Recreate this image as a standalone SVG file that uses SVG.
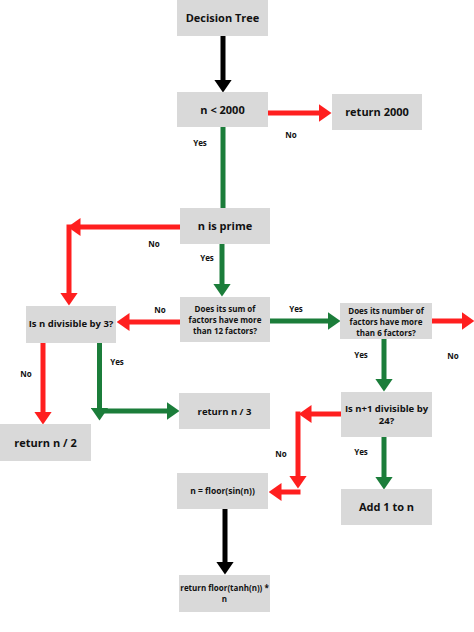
<svg xmlns="http://www.w3.org/2000/svg" width="474" height="632" viewBox="0 0 474 632">
<style>
.box{fill:#d9d9d9}
.t{font-family:"Open Sans","Liberation Sans",sans-serif;font-weight:bold;fill:#111;text-anchor:middle}
.l{font-family:"Open Sans","Liberation Sans",sans-serif;font-weight:bold;fill:#111;text-anchor:middle;font-size:8px}
.k{stroke:#000;stroke-width:5;fill:none}
.r{stroke:#ff1f1f;stroke-width:5;fill:none}
.g{stroke:#1b7d3a;stroke-width:5;fill:none}
</style>
<defs>
<marker id="ak" markerUnits="userSpaceOnUse" markerWidth="13" markerHeight="18" viewBox="0 0 13 18" refX="0.5" refY="9" orient="auto"><path d="M0,0 L13,9 L0,18 z" fill="#000"/></marker>
<marker id="ar" markerUnits="userSpaceOnUse" markerWidth="13" markerHeight="18" viewBox="0 0 13 18" refX="0.5" refY="9" orient="auto"><path d="M0,0 L13,9 L0,18 z" fill="#ff1f1f"/></marker>
<marker id="ag" markerUnits="userSpaceOnUse" markerWidth="13" markerHeight="18" viewBox="0 0 13 18" refX="0.5" refY="9" orient="auto"><path d="M0,0 L13,9 L0,18 z" fill="#1b7d3a"/></marker>
</defs>
<g id="connectors">
<line class="k" x1="223" y1="36" x2="223" y2="80" marker-end="url(#ak)"/>
<line class="r" x1="268" y1="113" x2="319" y2="113" marker-end="url(#ar)"/>
<line class="g" x1="223" y1="127" x2="223" y2="208"/>
<line class="r" x1="180" y1="227" x2="80" y2="227" marker-end="url(#ar)"/>
<line class="r" x1="69" y1="224.5" x2="69" y2="293" marker-end="url(#ar)"/>
<line class="g" x1="222" y1="244" x2="222" y2="284" marker-end="url(#ag)"/>
<line class="r" x1="180" y1="322" x2="129" y2="322" marker-end="url(#ar)"/>
<line class="g" x1="270" y1="321" x2="328" y2="321" marker-end="url(#ag)"/>
<line class="r" x1="432" y1="321" x2="462" y2="321" marker-end="url(#ar)"/>
<line class="g" x1="384" y1="339" x2="384" y2="379" marker-end="url(#ag)"/>
<line class="r" x1="341" y1="414" x2="311" y2="414" marker-end="url(#ar)"/>
<line class="r" x1="298" y1="411.5" x2="298" y2="476" marker-end="url(#ar)"/>
<line class="r" x1="300.5" y1="492" x2="281" y2="492" marker-end="url(#ar)"/>
<line class="g" x1="384" y1="437" x2="384" y2="477" marker-end="url(#ag)"/>
<line class="r" x1="43" y1="343" x2="43" y2="412" marker-end="url(#ar)"/>
<line class="g" x1="99.5" y1="343" x2="99.5" y2="408" marker-end="url(#ag)"/>
<line class="g" x1="97" y1="411" x2="167" y2="411" marker-end="url(#ag)"/>
<line class="k" x1="225" y1="509" x2="225" y2="562" marker-end="url(#ak)"/>
</g>
<g id="labels">
<text class="l" x="291" y="138">No</text>
<text class="l" x="200" y="146">Yes</text>
<text class="l" x="154" y="247">No</text>
<text class="l" x="207" y="261">Yes</text>
<text class="l" x="160" y="313">No</text>
<text class="l" x="296" y="312">Yes</text>
<text class="l" x="453" y="359">No</text>
<text class="l" x="361" y="358">Yes</text>
<text class="l" x="26" y="377">No</text>
<text class="l" x="117" y="365">Yes</text>
<text class="l" x="281" y="457">No</text>
<text class="l" x="361" y="455">Yes</text>
</g>
<g id="decision-tree"><rect class="box" x="177" y="0" width="91" height="36"/><text class="t" x="222.5" y="22" font-size="11">Decision Tree</text></g>
<g id="n-lt-2000"><rect class="box" x="177" y="92" width="91" height="35"/><text class="t" x="222.5" y="113.5" font-size="11">n &lt; 2000</text></g>
<g id="return-2000"><rect class="box" x="332" y="94" width="90" height="36"/><text class="t" x="377" y="116" font-size="11">return 2000</text></g>
<g id="n-is-prime"><rect class="box" x="180" y="208" width="90" height="36"/><text class="t" x="225" y="230" font-size="11">n is prime</text></g>
<g id="sum-factors"><rect class="box" x="180" y="297" width="90" height="45"/><text class="t" x="225" font-size="8"><tspan x="225" y="312">Does its sum of</tspan><tspan x="225" y="323">factors have more</tspan><tspan x="225" y="334">than 12 factors?</tspan></text></g>
<g id="div-by-3"><rect class="box" x="26" y="306" width="90" height="37"/><text class="t" x="71" y="326.5" font-size="9.5">Is n divisible by 3?</text></g>
<g id="num-factors"><rect class="box" x="340" y="303" width="92" height="36"/><text class="t" font-size="8"><tspan x="386" y="314">Does its number of</tspan><tspan x="386" y="325">factors have more</tspan><tspan x="386" y="336">than 6 factors?</tspan></text></g>
<g id="n1-div-24"><rect class="box" x="341" y="392" width="91" height="45"/><text class="t" font-size="9.5"><tspan x="386.5" y="411.5">Is n+1 divisible by</tspan><tspan x="386.5" y="424">24?</tspan></text></g>
<g id="return-n3"><rect class="box" x="179" y="393" width="91" height="36"/><text class="t" x="224.5" y="414.5" font-size="9.5">return n / 3</text></g>
<g id="return-n2"><rect class="box" x="0" y="424" width="91" height="37"/><text class="t" x="45.5" y="446.5" font-size="11">return n / 2</text></g>
<g id="floor-sin"><rect class="box" x="177" y="473" width="91" height="36"/><text class="t" x="222.5" y="494" font-size="8.5">n = floor(sin(n))</text></g>
<g id="add-1"><rect class="box" x="341" y="489" width="91" height="36"/><text class="t" x="386.5" y="511" font-size="11">Add 1 to n</text></g>
<g id="return-tanh"><rect class="box" x="179" y="575" width="91" height="37"/><text class="t" font-size="8"><tspan x="224.5" y="590.5">return floor(tanh(n)) *</tspan><tspan x="224.5" y="601.5">n</tspan></text></g>
</svg>
